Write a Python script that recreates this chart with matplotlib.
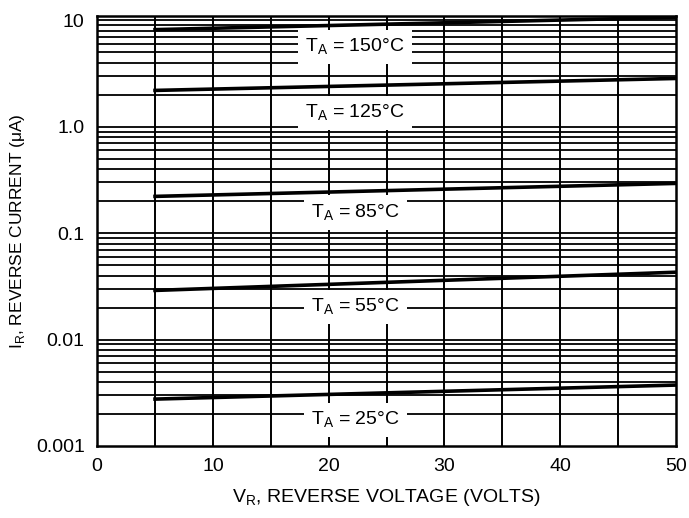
import matplotlib.pyplot as plt
import numpy as np

plt.rcParams['font.family'] = ['Liberation Sans', 'DejaVu Sans']

# reverse voltage (V) at the ends of each curve
vr = [5, 50]
# reverse current (uA) per ambient temperature
ir_150 = [8.2, 10.7]
ir_125 = [2.2, 2.85]
ir_85 = [0.222, 0.294]
ir_55 = [0.029, 0.043]
ir_25 = [0.00276, 0.00374]

curves = [ir_150, ir_125, ir_85, ir_55, ir_25]
labels = ['150', '125', '85', '55', '25']
label_y = [5.6, 1.34, 0.157, 0.0202, 0.00175]

yticks = [0.001, 0.01, 0.1, 1.0, 10]
ytick_labels = ['0.001', '0.01', '0.1', '1.0', '10']

fig = plt.figure(figsize=(6.89, 5.18), dpi=100)
ax = fig.add_axes([0.141, 0.139, 0.840, 0.830])
ax.set_yscale('log')
ax.set_xlim(0, 50)
ax.set_ylim(0.001, 11)

# grid: every 5 V, and every minor log step
for x in range(5, 50, 5):
    ax.axvline(x, color='black', lw=1.4, zorder=1)
for dec in [0.001, 0.01, 0.1, 1.0, 10]:
    for m in range(1, 10):
        v = dec * m
        if 0.001 < v < 11:
            ax.axhline(v, color='black', lw=1.3, zorder=1)

for c in curves:
    ax.plot(vr, c, color='black', lw=2.6, zorder=3)

for t, y in zip(labels, label_y):
    ax.text(22.3, y, r'T$_\mathregular{A}$ = ' + t + '\u00b0C', ha='center', va='center',
            fontsize=14, zorder=4,
            bbox=dict(facecolor='white', edgecolor='none', pad=5))

for s in ax.spines.values():
    s.set_linewidth(1.8)

ax.set_xticks(range(0, 51, 10))
ax.set_yticks(yticks)
ax.set_yticklabels(ytick_labels)
ax.minorticks_off()
ax.tick_params(length=0, labelsize=14, pad=9)
ax.set_xlabel(r'V$_\mathregular{R}$, REVERSE VOLTAGE (VOLTS)', fontsize=14, labelpad=8)
ax.set_ylabel(r'I$_\mathregular{R}$, REVERSE CURRENT ($\mathregular{\mu}$A)', fontsize=12.5)
ax.yaxis.set_label_coords(-0.122, 0.5)

fig.savefig('out.png', dpi=100)
